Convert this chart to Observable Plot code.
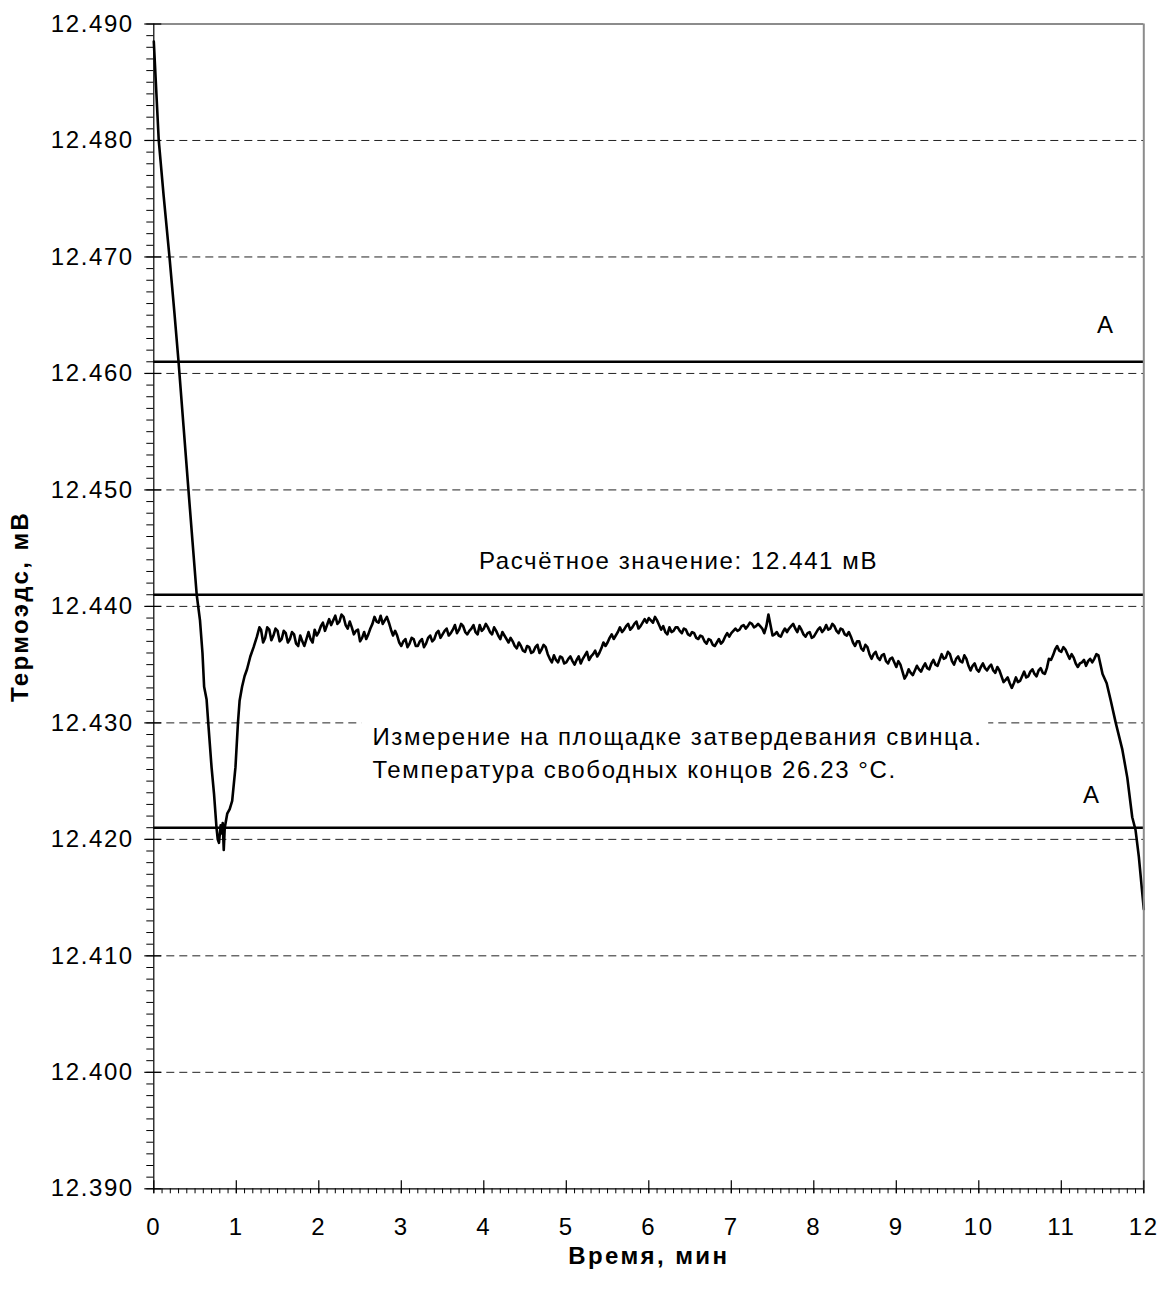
<!DOCTYPE html>
<html>
<head>
<meta charset="utf-8">
<script src="https://cdn.jsdelivr.net/npm/d3@7"></script>
<script src="https://cdn.jsdelivr.net/npm/@observablehq/plot@0.6"></script>
<style>
  html, body { margin: 0; padding: 0; background: #fff; }
  svg text { letter-spacing: 1.6px; }
</style>
</head>
<body>
<div id="chart"></div>
<script>
// ---- data ----
// initial cooling and supercooling dip
const timeA = [0, 0.06, 0.12, 0.19, 0.25, 0.30, 0.36, 0.42, 0.47, 0.52, 0.56, 0.59, 0.61, 0.64, 0.66, 0.70, 0.73, 0.76, 0.775, 0.79, 0.81, 0.825, 0.835, 0.848, 0.86, 0.89, 0.92, 0.95, 0.99, 1.02, 1.04, 1.07, 1.10, 1.13, 1.17, 1.21, 1.25, 1.28];
const emfA  = [12.4885, 12.4800, 12.4752, 12.4700, 12.4652, 12.4610, 12.4555, 12.4500, 12.4455, 12.4410, 12.4388, 12.4360, 12.4331, 12.4320, 12.4300, 12.4262, 12.4239, 12.4210, 12.4200, 12.4197, 12.4212, 12.4205, 12.4214, 12.4191, 12.4210, 12.4222, 12.4226, 12.4233, 12.4262, 12.4300, 12.4319, 12.4331, 12.4340, 12.4346, 12.4357, 12.4365, 12.4374, 12.4382];
// freezing plateau, samples on the 0.05 min grid
const timeB = [
  1.30,1.35,1.40,1.45,1.50,1.55,1.60,1.65,1.70,1.75,
  1.80,1.85,1.90,1.95,2.00,2.05,2.10,2.15,2.20,2.25,
  2.30,2.35,2.40,2.45,2.50,2.55,2.60,2.65,2.70,2.75,
  2.80,2.85,2.90,2.95,3.00,3.05,3.10,3.15,3.20,3.25,
  3.30,3.35,3.40,3.45,3.50,3.55,3.60,3.65,3.70,3.75,
  3.80,3.85,3.90,3.95,4.00,4.05,4.10,4.15,4.20,4.25,
  4.30,4.35,4.40,4.45,4.50,4.55,4.60,4.65,4.70,4.75,
  4.80,4.85,4.90,4.95,5.00,5.05,5.10,5.15,5.20,5.25,
  5.30,5.35,5.40,5.45,5.50,5.55,5.60,5.65,5.70,5.75,
  5.80,5.85,5.90,5.95,6.00,6.05,6.10,6.15,6.20,6.25,
  6.30,6.35,6.40,6.45,6.50,6.55,6.60,6.65,6.70,6.75,
  6.80,6.85,6.90,6.95,7.00,7.05,7.10,7.15,7.20,7.25,
  7.30,7.35,7.40,7.45,7.50,7.55,7.60,7.65,7.70,7.75,
  7.80,7.85,7.90,7.95,8.00,8.05,8.10,8.15,8.20,8.25,
  8.30,8.35,8.40,8.45,8.50,8.55,8.60,8.65,8.70,8.75,
  8.80,8.85,8.90,8.95,9.00,9.05,9.10,9.15,9.20,9.25,
  9.30,9.35,9.40,9.45,9.50,9.55,9.60,9.65,9.70,9.75,
  9.80,9.85,9.90,9.95,10.00,10.05,10.10,10.15,10.20,10.25,
  10.30,10.35,10.40,10.45,10.50,10.55,10.60,10.65,10.70,10.75,
  10.80,10.85,10.90,10.95,11.00,11.05,11.10,11.15,11.20,11.25,
  11.30,11.35,11.40,11.45,11.50
];
const emfB = [
  12.4380,12.4373,12.4380,12.4375,12.4379,12.4372,12.4377,12.4372,12.4376,12.4366,
  12.4370,12.4372,12.4372,12.4380,12.4378,12.4386,12.4384,12.4384,12.4392,12.4387,
  12.4391,12.4381,12.4382,12.4379,12.4370,12.4378,12.4376,12.4385,12.4387,12.4392,
  12.4388,12.4386,12.4375,12.4375,12.4366,12.4372,12.4368,12.4372,12.4366,12.4372,
  12.4368,12.4375,12.4372,12.4379,12.4376,12.4381,12.4377,12.4384,12.4380,12.4383,
  12.4376,12.4381,12.4378,12.4384,12.4381,12.4382,12.4376,12.4379,12.4372,12.4375,
  12.4369,12.4370,12.4364,12.4366,12.4361,12.4365,12.4361,12.4367,12.4363,12.4365,
  12.4355,12.4358,12.4352,12.4356,12.4352,12.4357,12.4350,12.4357,12.4355,12.4361,
  12.4357,12.4362,12.4360,12.4369,12.4369,12.4376,12.4375,12.4382,12.4380,12.4385,
  12.4382,12.4387,12.4383,12.4389,12.4390,12.4386,12.4388,12.4380,12.4378,12.4382,
  12.4379,12.4382,12.4377,12.4380,12.4375,12.4377,12.4372,12.4374,12.4368,12.4371,
  12.4366,12.4372,12.4370,12.4377,12.4377,12.4381,12.4380,12.4384,12.4383,12.4385,
  12.4383,12.4383,12.4377,12.4393,12.4375,12.4378,12.4374,12.4381,12.4381,12.4385,
  12.4378,12.4380,12.4374,12.4378,12.4374,12.4380,12.4378,12.4384,12.4381,12.4383,
  12.4377,12.4380,12.4375,12.4374,12.4366,12.4370,12.4362,12.4365,12.4355,12.4361,
  12.4354,12.4359,12.4351,12.4356,12.4348,12.4350,12.4338,12.4346,12.4341,12.4349,
  12.4344,12.4351,12.4346,12.4354,12.4349,12.4359,12.4356,12.4359,12.4350,12.4357,
  12.4352,12.4355,12.4345,12.4351,12.4344,12.4351,12.4345,12.4350,12.4343,12.4345,
  12.4335,12.4339,12.4330,12.4339,12.4336,12.4344,12.4340,12.4346,12.4340,12.4347,
  12.4342,12.4355,12.4358,12.4366,12.4361,12.4363,12.4355,12.4356,12.4348,12.4352,
  12.4349,12.4355,12.4355,12.4358,12.4342
];
// freezing plateau, samples between the grid points
const timeB2 = [
  1.325,1.375,1.425,1.475,1.525,1.575,1.625,1.675,1.725,1.775,
  1.825,1.875,1.925,1.975,2.025,2.075,2.125,2.175,2.225,2.275,
  2.325,2.375,2.425,2.475,2.525,2.575,2.625,2.675,2.725,2.775,
  2.825,2.875,2.925,2.975,3.025,3.075,3.125,3.175,3.225,3.275,
  3.325,3.375,3.425,3.475,3.525,3.575,3.625,3.675,3.725,3.775,
  3.825,3.875,3.925,3.975,4.025,4.075,4.125,4.175,4.225,4.275,
  4.325,4.375,4.425,4.475,4.525,4.575,4.625,4.675,4.725,4.775,
  4.825,4.875,4.925,4.975,5.025,5.075,5.125,5.175,5.225,5.275,
  5.325,5.375,5.425,5.475,5.525,5.575,5.625,5.675,5.725,5.775,
  5.825,5.875,5.925,5.975,6.025,6.075,6.125,6.175,6.225,6.275,
  6.325,6.375,6.425,6.475,6.525,6.575,6.625,6.675,6.725,6.775,
  6.825,6.875,6.925,6.975,7.025,7.075,7.125,7.175,7.225,7.275,
  7.325,7.375,7.425,7.475,7.525,7.575,7.625,7.675,7.725,7.775,
  7.825,7.875,7.925,7.975,8.025,8.075,8.125,8.175,8.225,8.275,
  8.325,8.375,8.425,8.475,8.525,8.575,8.625,8.675,8.725,8.775,
  8.825,8.875,8.925,8.975,9.025,9.075,9.125,9.175,9.225,9.275,
  9.325,9.375,9.425,9.475,9.525,9.575,9.625,9.675,9.725,9.775,
  9.825,9.875,9.925,9.975,10.025,10.075,10.125,10.175,10.225,10.275,
  10.325,10.375,10.425,10.475,10.525,10.575,10.625,10.675,10.725,10.775,
  10.825,10.875,10.925,10.975,11.025,11.075,11.125,11.175,11.225,11.275,
  11.325,11.375,11.425,11.475
];
const emfB2 = [
  12.4369,12.4382,12.4371,12.4381,12.4370,12.4379,12.4369,12.4378,12.4368,12.4375,
  12.4366,12.4378,12.4369,12.4375,12.4383,12.4379,12.4389,12.4388,12.4385,12.4393,
  12.4384,12.4387,12.4376,12.4380,12.4373,12.4372,12.4381,12.4391,12.4386,12.4385,
  12.4391,12.4380,12.4379,12.4369,12.4370,12.4365,12.4373,12.4366,12.4370,12.4365,
  12.4373,12.4370,12.4377,12.4373,12.4379,12.4375,12.4380,12.4377,12.4385,12.4378,
  12.4379,12.4384,12.4376,12.4379,12.4385,12.4378,12.4382,12.4375,12.4378,12.4372,
  12.4373,12.4366,12.4369,12.4362,12.4366,12.4360,12.4365,12.4360,12.4367,12.4359,
  12.4352,12.4354,12.4357,12.4351,12.4355,12.4353,12.4354,12.4351,12.4358,12.4354,
  12.4359,12.4357,12.4364,12.4366,12.4373,12.4372,12.4378,12.4378,12.4383,12.4380,
  12.4385,12.4381,12.4386,12.4386,12.4388,12.4391,12.4384,12.4383,12.4376,12.4378,
  12.4382,12.4379,12.4381,12.4376,12.4378,12.4373,12.4375,12.4370,12.4372,12.4367,
  12.4369,12.4368,12.4374,12.4374,12.4379,12.4379,12.4383,12.4381,12.4386,12.4382,
  12.4385,12.4381,12.4383,12.4384,12.4376,12.4375,12.4378,12.4378,12.4383,12.4381,
  12.4383,12.4376,12.4377,12.4373,12.4377,12.4382,12.4380,12.4380,12.4385,12.4379,
  12.4381,12.4376,12.4378,12.4369,12.4370,12.4364,12.4367,12.4359,12.4359,12.4356,
  12.4358,12.4353,12.4355,12.4352,12.4353,12.4344,12.4341,12.4343,12.4345,12.4346,
  12.4348,12.4347,12.4351,12.4350,12.4354,12.4355,12.4361,12.4353,12.4355,12.4353,
  12.4358,12.4349,12.4349,12.4346,12.4348,12.4347,12.4348,12.4345,12.4348,12.4340,
  12.4337,12.4334,12.4334,12.4335,12.4340,12.4339,12.4344,12.4342,12.4345,12.4343,
  12.4347,12.4354,12.4363,12.4362,12.4365,12.4359,12.4359,12.4351,12.4351,12.4354,
  12.4353,12.4352,12.4359,12.4350
];
// end of plateau
const timeC = [11.55, 11.60, 11.66, 11.74, 11.80, 11.86, 11.90, 11.94, 12.00];
const emfC  = [12.4334, 12.4319, 12.4300, 12.4277, 12.4253, 12.4219, 12.4208, 12.4185, 12.4140];

// reference levels (solid lines)
const refLevels = [12.461, 12.441, 12.421];
// axes
const xMajorTicks = [0, 1, 2, 3, 4, 5, 6, 7, 8, 9, 10, 11, 12];
const yMajorTicks = [12.390, 12.400, 12.410, 12.420, 12.430, 12.440, 12.450, 12.460, 12.470, 12.480, 12.490];
const yGrid = [12.400, 12.410, 12.420, 12.430, 12.440, 12.450, 12.460, 12.470, 12.480];
const xTitle = "Время, мин";
const yTitle = "Термоэдс, мВ";
// annotations
const centeredText = ["A", "A", "Расчётное значение: 12.441 мВ"];
const centeredX = [11.54, 11.37, 6.36];
const centeredY = [12.4641, 12.4238, 12.4439];
const noteText = ["Измерение на площадке затвердевания свинца.", "Температура свободных концов 26.23 °C."];
const noteX = [2.65, 2.65];
const noteY = [12.4288, 12.4259];
const noteBox = [{x1: 2.52, x2: 10.12, y1: 12.4242, y2: 12.4306}];

// ---- build ----
const series = [];
[[timeA, emfA], [timeB, emfB], [timeB2, emfB2], [timeC, emfC]].forEach(([ts, vs]) => ts.forEach((t, i) => series.push({t, v: vs[i]})));
series.sort((a, b) => a.t - b.t);
const centered = centeredText.map((text, i) => ({text, x: centeredX[i], y: centeredY[i]}));
const notes = noteText.map((text, i) => ({text, x: noteX[i], y: noteY[i]}));
const xMinor = d3.range(0, 121, 1).map(d => d / 10);
const yMinor = d3.range(12390, 12491, 1).map(d => d / 1000);

const font = "'Liberation Sans', Arial, Helvetica, sans-serif";
const chart = Plot.plot({
  width: 1161,
  height: 1290,
  marginTop: 23.5,
  marginBottom: 101.7,
  marginLeft: 153.3,
  marginRight: 17.7,
  style: {fontFamily: font, fontSize: "24px", background: "#fff", color: "#000"},
  x: {domain: [0, 12], label: null},
  y: {domain: [12.390, 12.490], label: null},
  marks: [
    Plot.ruleY(yGrid, {stroke: "#222", strokeWidth: 1, strokeDasharray: "8,5"}),
    Plot.rect(noteBox, {x1: "x1", x2: "x2", y1: "y1", y2: "y2", fill: "#fff"}),
    Plot.ruleY(refLevels, {stroke: "#000", strokeWidth: 2.5}),
    Plot.line(series, {x: "t", y: "v", stroke: "#000", strokeWidth: 2.6, strokeLinejoin: "round"}),
    Plot.ruleY([12.490], {stroke: "#8c8c8c", strokeWidth: 2}),
    Plot.ruleX([12], {stroke: "#8c8c8c", strokeWidth: 2}),
    Plot.ruleX([0], {stroke: "#000", strokeWidth: 1.2}),
    Plot.ruleY([12.390], {stroke: "#000", strokeWidth: 1.2}),
    Plot.axisX(xMinor, {tickSize: 5, text: null, strokeWidth: 1}),
    Plot.axisX(xMajorTicks, {tickSize: 13, dy: -8, text: null, strokeWidth: 1.2}),
    Plot.axisX(xMajorTicks, {tickSize: 0, tickPadding: 29, fontSize: 24, tickFormat: d => String(d)}),
    Plot.axisY(yMinor, {tickSize: 7, text: null, strokeWidth: 1}),
    Plot.axisY(yMajorTicks, {tickSize: 17, dx: 8, text: null, strokeWidth: 1.2}),
    Plot.axisY(yMajorTicks, {tickSize: 0, tickPadding: 20, fontSize: 24, tickFormat: d3.format(".3f")}),
    Plot.text(centered, {x: "x", y: "y", text: "text", textAnchor: "middle", fontSize: 24, fill: "#000"}),
    Plot.text(notes, {x: "x", y: "y", text: "text", textAnchor: "start", fontSize: 24, fill: "#000"}),
    Plot.text([yTitle], {frameAnchor: "left", rotate: -90, dx: -133, textAnchor: "middle", lineAnchor: "middle", fontSize: 24, fontWeight: "bold", fill: "#000"}),
    Plot.text([xTitle], {frameAnchor: "bottom", dy: 68, textAnchor: "middle", lineAnchor: "middle", fontSize: 24, fontWeight: "bold", fill: "#000"})
  ]
});
// wider tracking for the bold axis titles
d3.select(chart).selectAll("text")
  .filter(function () { return this.textContent === xTitle || this.textContent === yTitle; })
  .style("letter-spacing", "2.4px");
document.getElementById("chart").appendChild(chart);
</script>
</body>
</html>
